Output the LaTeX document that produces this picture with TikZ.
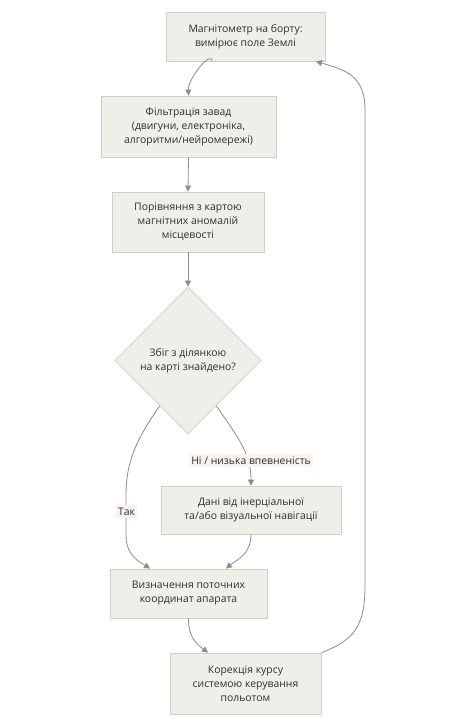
\documentclass[tikz,border=0pt]{standalone}
\usepackage{fontspec}
\setmainfont{Open Sans}
\usetikzlibrary{shapes.geometric,arrows.meta,calc}
\definecolor{boxfill}{HTML}{EFEFE9}
\definecolor{boxline}{HTML}{D0D0C8}
\definecolor{edgecol}{HTML}{8C8C8C}
\definecolor{lblfill}{HTML}{FAF2EB}
\definecolor{txt}{HTML}{2E2E38}
\begin{document}
\begin{tikzpicture}[x=1bp,y=-1bp,
  every node/.style={font=\fontsize{10.4bp}{14bp}\selectfont, text=txt},
  box/.style={draw=boxline, fill=boxfill, line width=0.8bp, align=center, inner sep=0pt},
  dia/.style={diamond, aspect=1, draw=boxline, fill=boxfill, line width=0.8bp, align=center, inner sep=0pt},
  lbl/.style={fill=lblfill, inner sep=2.5bp},
  edge/.style={draw=edgecol, line width=0.8bp, -{Triangle[length=6bp,width=6bp]}}]
\useasboundingbox (0,0) rectangle (461,721);
\fill[white] (0,0) rectangle (461,721);

\node[box, minimum width=159bp, minimum height=49bp] (b1) at (245.5,36.5) {Магнітометр на борту:\\вимірює поле Землі};
\node[box, minimum width=175bp, minimum height=61bp] (b2) at (188.5,126.5) {Фільтрація завад\\(двигуни, електроніка,\\алгоритми/нейромережі)};
\node[box, minimum width=152bp, minimum height=60bp] (b3) at (188,222) {Порівняння з картою\\магнітних аномалій\\місцевості};
\node[dia, minimum width=146bp, minimum height=147bp] (d) at (188,360.5) {Збіг з ділянкою\\на карті знайдено?};
\node[box, minimum width=180bp, minimum height=48bp] (b4) at (251,510) {Дані від інерціальної\\та/або візуальної навігації};
\node[box, minimum width=157bp, minimum height=49bp] (b5) at (188.5,593.5) {Визначення поточних\\координат апарата};
\node[box, minimum width=151bp, minimum height=61bp] (b6) at (245.5,683.5) {Корекція курсу\\системою керування\\польотом};

\draw[edge] ([xshift=-33.5bp]b1.south) .. controls +(0,-12) and (188,78) .. (b2.north);
\draw[edge] (b2.south) -- (b3.north);
\draw[edge] (b3.south) -- (d.north);
\draw[edge] (d.238) .. controls (136,440) and (126,462) .. (126,495) -- (126,535) .. controls (126,556) and (140,562) .. ([xshift=-38.5bp]b5.north);
\draw[edge] (d.-58) .. controls (236,435) and (251,452) .. (b4.north);
\draw[edge] (b4.south) .. controls (251,555) and (236,560) .. ([xshift=37.5bp]b5.north);
\draw[edge] (b5.south) .. controls (188,638) and (198,645) .. ([xshift=-37.5bp]b6.north);
\draw[edge] (b6.north east) .. controls (355,640) and (365,625) .. (365,585) -- (365,110) .. controls (365,75) and (345,70) .. ([xshift=70.5bp]b1.south);

\node[lbl] (l1) at (251,460.5) {Ні / низька впевненість};
\node[lbl] (l2) at (126.5,511.5) {Так};
\end{tikzpicture}
\end{document}
